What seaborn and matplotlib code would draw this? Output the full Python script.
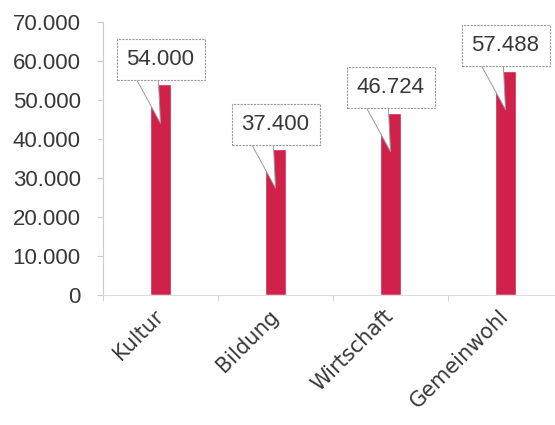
import matplotlib
matplotlib.use("Agg")
import matplotlib.pyplot as plt
from matplotlib.ticker import FuncFormatter, FixedLocator
import seaborn as sns
import pandas as pd

# Daten
kategorien = ["Kultur", "Bildung", "Wirtschaft", "Gemeinwohl"]
werte = [54000, 37400, 46724, 57488]
beschriftungen = ["54.000", "37.400", "46.724", "57.488"]

df = pd.DataFrame({"Bereich": kategorien, "Wert": werte})

sns.set_style("white")
plt.rcParams["font.family"] = ["Liberation Sans", "DejaVu Sans"]

fig = plt.figure(figsize=(5.55, 4.25), dpi=100)
ax = fig.add_axes([103 / 555, 130 / 425, 452 / 555, 273 / 425])

sns.barplot(data=df, x="Bereich", y="Wert", color="#d0214a", width=0.18,
            saturation=1, ax=ax)

ax.set_ylim(0, 70000)
ax.set_xlim(-0.5, 3.43)
ax.set_xlabel("")
ax.set_ylabel("")

# y-Achse im deutschen Format
ax.yaxis.set_major_formatter(FuncFormatter(lambda v, p: f"{v:,.0f}".replace(",", ".")))
ax.set_yticks(range(0, 70001, 10000))
ax.tick_params(axis="y", labelsize=16, labelcolor="#383838", length=4,
               color="#cccccc", pad=12, left=True)

# x-Achse: Striche zwischen den Kategorien
ax.xaxis.set_minor_locator(FixedLocator([-0.5, 0.5, 1.5, 2.5, 3.5]))
ax.tick_params(axis="x", which="major", length=0, pad=13)
ax.tick_params(axis="x", which="minor", length=4, color="#cccccc", bottom=True)
ax.set_xticks(range(len(kategorien)))
ax.set_xticklabels(kategorien, rotation=45, ha="right", va="center",
                   rotation_mode="anchor", fontsize=15, color="#383838",
                   family=["DejaVu Sans"])

for side in ["top", "right"]:
    ax.spines[side].set_visible(False)
ax.spines["left"].set_color("#cccccc")
ax.spines["bottom"].set_color("#dddddd")

# Sprechblasen mit den Werten
for i, (v, txt) in enumerate(zip(werte, beschriftungen)):
    ax.annotate("", xy=(i, v - 10000), xytext=(-18, 64), textcoords="offset pixels",
                arrowprops=dict(arrowstyle="wedge,tail_width=1.1", mutation_scale=20,
                                fc="white", ec="#999999", lw=0.7,
                                shrinkA=0, shrinkB=0))
    ax.annotate(txt, xy=(i, v), xytext=(0, 25), textcoords="offset pixels",
                ha="center", va="center", fontsize=16, color="#383838",
                bbox=dict(boxstyle="square,pad=0.45", fc="white", ec="#999999",
                          lw=0.8, ls=(0, (2, 1))))

fig.savefig("out.png", dpi=100)
